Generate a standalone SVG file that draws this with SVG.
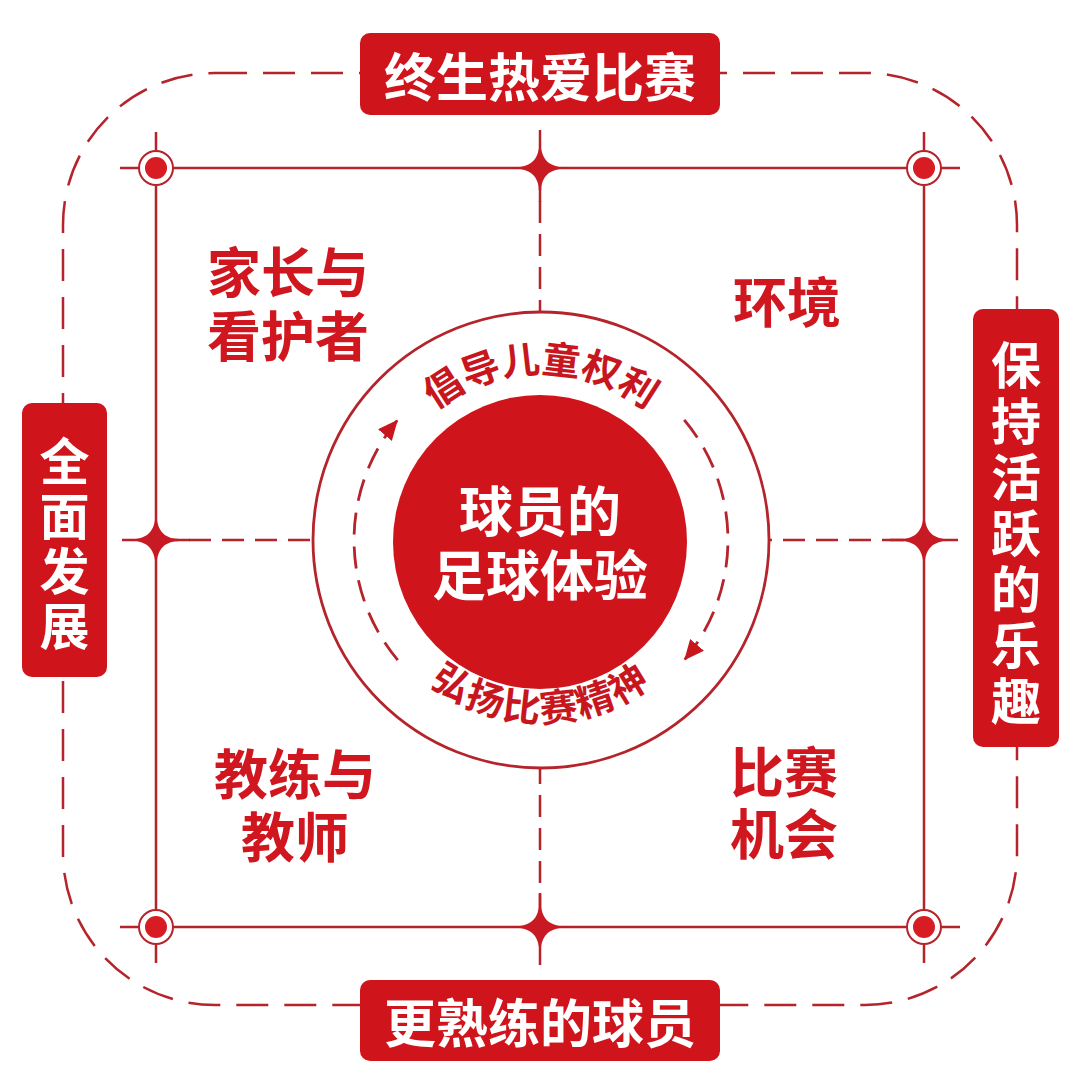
<svg xmlns="http://www.w3.org/2000/svg" width="1080" height="1080" viewBox="0 0 1080 1080">
<defs>
<style>
.ln{stroke:#b5232b;stroke-width:2.5;fill:none}
.dash{stroke-dasharray:22 11}
.odash{stroke-dasharray:32 16}
.adash{stroke-dasharray:22 12;stroke-width:2.8}
.box{fill:#d0141c}
.spk{fill:#c81a22}
.bt{font-family:"Noto Sans CJK SC","Noto Sans",sans-serif;font-weight:700;fill:#ffffff;font-size:52px;text-anchor:middle;dominant-baseline:central}
.vt{font-family:"Noto Sans CJK SC","Noto Sans",sans-serif;font-weight:700;fill:#ffffff;font-size:50px;text-anchor:middle;dominant-baseline:central}
.qt{font-family:"Noto Sans CJK SC","Noto Sans",sans-serif;font-weight:700;fill:#d0161e;font-size:54px;text-anchor:middle;dominant-baseline:central}
.ct{font-family:"Noto Sans CJK SC","Noto Sans",sans-serif;font-weight:700;fill:#ffffff;font-size:54px;text-anchor:middle;dominant-baseline:central}
.rt{font-family:"Noto Sans CJK SC","Noto Sans",sans-serif;font-weight:700;fill:#c8161e;font-size:38px;text-anchor:middle}
</style>
<marker id="ah" markerUnits="userSpaceOnUse" markerWidth="22" markerHeight="18" refX="20" refY="9" orient="auto">
<path d="M0,0 L20,9 L0,18 Z" fill="#c8161e"/>
</marker>
<path id="topArc" d="M 374 540 A 167 167 0 0 1 708 540"/>
<path id="botArc" d="M 359 540 A 182 182 0 0 0 723 540"/>
</defs>
<rect width="1080" height="1080" fill="#ffffff"/>

<g id="connectors">
<rect class="ln odash" x="63" y="73" width="954" height="932" rx="152" ry="152"/>
<line class="ln" x1="120" y1="168" x2="960" y2="168"/>
<line class="ln" x1="120" y1="927" x2="960" y2="927"/>
<line class="ln" x1="156" y1="132" x2="156" y2="963"/>
<line class="ln" x1="924" y1="132" x2="924" y2="963"/>
<line class="ln dash" x1="540" y1="168" x2="540" y2="927"/>
<line class="ln dash" x1="156" y1="540" x2="924" y2="540"/>
<line class="ln" x1="540" y1="130" x2="540" y2="202"/>
<line class="ln" x1="540" y1="893" x2="540" y2="965"/>
<line class="ln" x1="122" y1="540" x2="190" y2="540"/>
<line class="ln" x1="890" y1="540" x2="958" y2="540"/>
<path class="spk" d="M540,134 C540,161 547,168 574,168 C547,168 540,175 540,202 C540,175 533,168 506,168 C533,168 540,161 540,134 Z"/>
<path class="spk" d="M540,893 C540,920 547,927 574,927 C547,927 540,934 540,961 C540,934 533,927 506,927 C533,927 540,920 540,893 Z"/>
<path class="spk" d="M156,506 C156,533 163,540 190,540 C163,540 156,547 156,574 C156,547 149,540 122,540 C149,540 156,533 156,506 Z"/>
<path class="spk" d="M924,506 C924,533 931,540 958,540 C931,540 924,547 924,574 C924,547 917,540 890,540 C917,540 924,533 924,506 Z"/>
</g>

<g id="corner-markers">
<g id="marker-tl"><circle cx="156" cy="168" r="17" fill="#ffffff" stroke="#b5232b" stroke-width="2"/><circle cx="156" cy="168" r="11" fill="#d81c24"/></g>
<g id="marker-tr"><circle cx="924" cy="168" r="17" fill="#ffffff" stroke="#b5232b" stroke-width="2"/><circle cx="924" cy="168" r="11" fill="#d81c24"/></g>
<g id="marker-bl"><circle cx="156" cy="927" r="17" fill="#ffffff" stroke="#b5232b" stroke-width="2"/><circle cx="156" cy="927" r="11" fill="#d81c24"/></g>
<g id="marker-br"><circle cx="924" cy="927" r="17" fill="#ffffff" stroke="#b5232b" stroke-width="2"/><circle cx="924" cy="927" r="11" fill="#d81c24"/></g>
</g>

<g id="center">
<circle cx="541" cy="540" r="228" fill="#ffffff" stroke="#b5232b" stroke-width="2.8"/>
<path class="ln adash" d="M 397.8 660.2 A 187 187 0 0 1 397.8 419.8" stroke="#c8161e" marker-end="url(#ah)"/>
<path class="ln adash" d="M 684.2 419.8 A 187 187 0 0 1 684.2 660.2" stroke="#c8161e" marker-end="url(#ah)"/>
<text class="rt"><textPath href="#topArc" startOffset="50%">倡导儿童权利</textPath></text>
<text class="rt" letter-spacing="2"><textPath href="#botArc" startOffset="50%">弘扬比赛精神</textPath></text>
<circle cx="540" cy="542" r="147" fill="#d0141c"/>
<text class="ct" x="540" y="508">球员的</text>
<text class="ct" x="540" y="572">足球体验</text>
</g>

<g id="top-label">
<rect class="box" x="360" y="33" width="360" height="82" rx="10"/>
<text class="bt" x="540" y="74">终生热爱比赛</text>
</g>
<g id="bottom-label">
<rect class="box" x="360" y="980" width="360" height="81" rx="10"/>
<text class="bt" x="540" y="1020">更熟练的球员</text>
</g>
<g id="left-label">
<rect class="box" x="22" y="403" width="85" height="274" rx="10"/>
<text class="vt"><tspan x="64.5" y="458">全</tspan><tspan x="64.5" y="513">面</tspan><tspan x="64.5" y="568">发</tspan><tspan x="64.5" y="623">展</tspan></text>
</g>
<g id="right-label">
<rect class="box" x="973" y="309" width="86" height="438" rx="10"/>
<text class="vt"><tspan x="1016" y="362">保</tspan><tspan x="1016" y="418">持</tspan><tspan x="1016" y="474">活</tspan><tspan x="1016" y="530">跃</tspan><tspan x="1016" y="586">的</tspan><tspan x="1016" y="642">乐</tspan><tspan x="1016" y="698">趣</tspan></text>
</g>

<g id="q-parents">
<text class="qt" x="288" y="269">家长与</text>
<text class="qt" x="288" y="333">看护者</text>
</g>
<g id="q-environment">
<text class="qt" x="787" y="299">环境</text>
</g>
<g id="q-coaches">
<text class="qt" x="295" y="771">教练与</text>
<text class="qt" x="295" y="834">教师</text>
</g>
<g id="q-opportunities">
<text class="qt" x="784" y="769">比赛</text>
<text class="qt" x="784" y="831">机会</text>
</g>
</svg>
